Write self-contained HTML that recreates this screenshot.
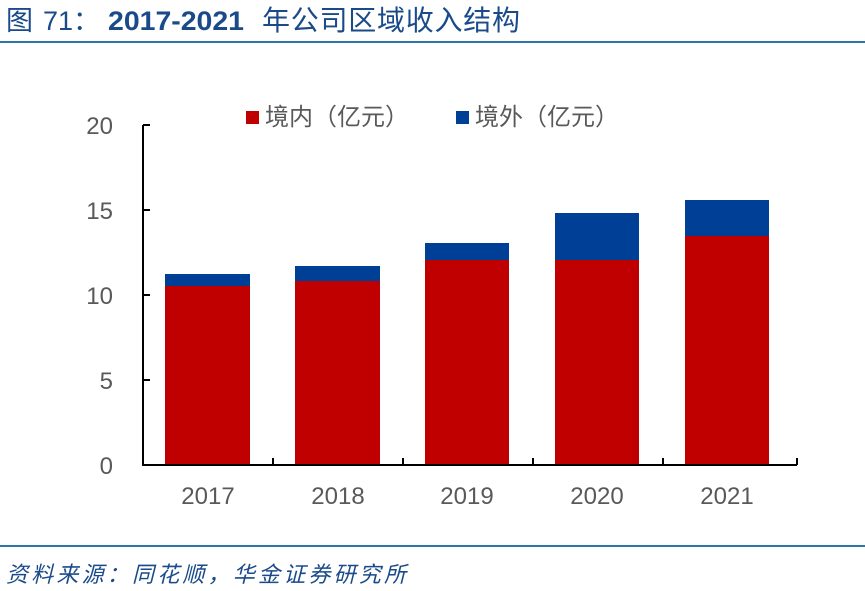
<!DOCTYPE html>
<html><head><meta charset="utf-8"><style>
body{margin:0;width:865px;height:591px;background:#fff;overflow:hidden;font-family:"Liberation Sans","Noto Sans CJK SC",sans-serif;}
</style></head><body>
<svg width="865" height="591" xmlns="http://www.w3.org/2000/svg" style="position:absolute;left:0;top:0" font-family="Liberation Sans, Noto Sans CJK SC, sans-serif">
<g fill="#1a4a8a">
<text x="6" y="30" font-size="27">图</text>
<text x="43" y="30" font-size="27">71：</text>
<text x="108" y="30" font-size="27" font-weight="bold" textLength="136" lengthAdjust="spacingAndGlyphs">2017-2021</text>
<text x="262" y="30" font-size="28" textLength="258" lengthAdjust="spacing">年公司区域收入结构</text>
</g>
<rect x="0" y="41" width="865" height="2" fill="#2e75a8"/>
<rect x="0" y="545" width="865" height="2" fill="#2e75a8"/>
<text x="6" y="582" font-size="22" fill="#1a4a8a" font-style="italic" textLength="400" lengthAdjust="spacing">资料来源：同花顺，华金证券研究所</text>
<g font-size="24" fill="#595959" text-anchor="end">
<text x="113" y="134">20</text><text x="113" y="219">15</text><text x="113" y="304">10</text><text x="113" y="389">5</text><text x="113" y="474">0</text>
</g>
<g fill="#c00000">
<rect x="165" y="286" width="85" height="179"/>
<rect x="295" y="281" width="85" height="184"/>
<rect x="425" y="260" width="84" height="205"/>
<rect x="555" y="260" width="84" height="205"/>
<rect x="685" y="236" width="84" height="229"/>
</g>
<g fill="#003f96">
<rect x="165" y="274" width="85" height="12"/>
<rect x="295" y="266" width="85" height="15"/>
<rect x="425" y="243" width="84" height="17"/>
<rect x="555" y="213" width="84" height="47"/>
<rect x="685" y="200" width="84" height="36"/>
</g>
<g stroke="#000" stroke-width="2" fill="none">
<path d="M143 125V465H797"/>
<path d="M143 125H150M143 210H150M143 295H150M143 380H150"/>
<path d="M273 465V458M403 465V458M533 465V458M663 465V458M797 465V458"/>
</g>
<g font-size="24" fill="#595959" text-anchor="middle">
<text x="208" y="504">2017</text><text x="338" y="504">2018</text><text x="467" y="504">2019</text><text x="597" y="504">2020</text><text x="727" y="504">2021</text>
</g>
<rect x="246" y="111" width="13" height="13" fill="#c00000"/>
<text x="265" y="125" font-size="24" fill="#595959">境内（亿元）</text>
<rect x="456" y="111" width="13" height="13" fill="#003f96"/>
<text x="475" y="125" font-size="24" fill="#595959">境外（亿元）</text>
</svg>
</body></html>
